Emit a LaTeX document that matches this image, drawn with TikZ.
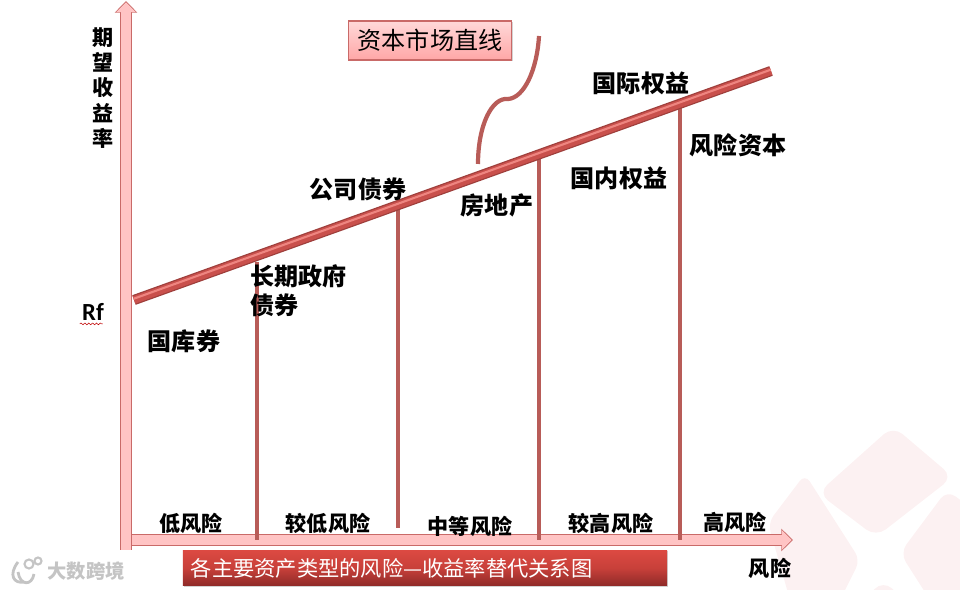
\documentclass[tikz,border=0pt]{standalone}
\usepackage{fontspec}
\setmainfont{Noto Sans CJK SC}
\newfontfamily\rffont{Carlito}
\usetikzlibrary{arrows.meta,shadows,decorations.pathmorphing}
\definecolor{axisfill}{HTML}{FFC4C4}
\definecolor{axisedge}{HTML}{C96A68}
\definecolor{barred}{HTML}{B85C58}
\definecolor{linered}{HTML}{C9504C}
\definecolor{linedark}{HTML}{9E3F3C}
\definecolor{linelight}{HTML}{EE8580}
\definecolor{markpink}{HTML}{FCF1F2}
\definecolor{markgrey}{HTML}{C4C4C4}
\definecolor{captop}{HTML}{DC4A42}
\definecolor{capmid}{HTML}{C8403A}
\definecolor{capbot}{HTML}{8E2A28}
\begin{document}
\begin{tikzpicture}[
  x=0.02cm,y=-0.02cm,
  every node/.style={inner sep=0pt,font=\bfseries\fontsize{13.7}{16.4}\selectfont},
  smalllabel/.style={font=\bfseries\fontsize{12}{14}\selectfont},
  axisarrow/.style={line width=5.6pt,draw=axisfill,
    -{Triangle[length=5.6pt,width=10.6pt]},shorten >=0.7pt,
    preaction={draw=axisedge,line width=6.6pt,shorten >=0pt,
    -{Triangle[length=6.6pt,width=12.4pt]}}},
  riskbar/.style={draw=barred,line width=2.6pt},
  marketline/.style={draw=linered,line width=4.4pt,
    preaction={draw=linedark,line width=5.8pt},
    postaction={draw=linelight,line width=1.2pt,transform canvas={shift={(-0.2pt,0.7pt)}}}},
  curveline/.style={draw=barred,line width=2.4pt}
]
  \useasboundingbox (0,0) rectangle (960,590);
  \begin{scope}
    \clip (0,0) rectangle (960,590);
    \fill[markpink,rounded corners=7pt] (893,426) -- (953,477) -- (876,537) -- (818,493) -- cycle;
    \fill[markpink,rounded corners=5pt] (805,474) -- (860,560) -- (830,620) -- (790,600) -- (768,523) -- cycle;
    \fill[markpink,rounded corners=6pt] (947,490) -- (1000,530) -- (970,620) -- (930,600) -- (900,553) -- cycle;
    \fill[markpink,rounded corners=7pt] (883,580) -- (915,610) -- (855,610) -- cycle;
  \end{scope}

  \coordinate (ostart) at (131,540);
  \coordinate (xtip) at (793,540);
  \coordinate (ybase) at (126,550);
  \coordinate (ytip) at (126,1);
  \draw[axisarrow] (ostart)--(xtip);
  \draw[axisarrow] (ybase)--(ytip);

  \coordinate (bar1top) at (257,262);
  \coordinate (bar1end) at (257,540);
  \coordinate (bar2top) at (398,208);
  \coordinate (bar2end) at (398,528);
  \coordinate (bar3top) at (539,156);
  \coordinate (bar3end) at (539,540);
  \coordinate (bar4top) at (680,104);
  \coordinate (bar4end) at (680,540);
  \draw[riskbar] (bar1top)--(bar1end);
  \draw[riskbar] (bar2top)--(bar2end);
  \draw[riskbar] (bar3top)--(bar3end);
  \draw[riskbar] (bar4top)--(bar4end);

  \coordinate (linestart) at (134,300);
  \coordinate (lineend) at (771,71);
  \draw[marketline] (linestart)--(lineend);

  \coordinate (curvetop) at (539,36);
  \coordinate (curvemid) at (508,99);
  \coordinate (curveend) at (478,164);
  \draw[curveline] (curvetop) .. controls (537,70) and (524,98) .. (curvemid)
    .. controls (492,97) and (478,125) .. (curveend);

  \node[draw=axisedge,line width=0.8pt,top color=axisfill!65,bottom color=axisfill!85!red,
    minimum width=164*0.567pt,minimum height=39*0.567pt,
    drop shadow={shadow xshift=0.6pt,shadow yshift=-0.8pt,opacity=0.35},
    font=\fontsize{13.7}{16}\selectfont] (capline) at (430,40.5) {资本市场直线};
  \node[top color=captop,bottom color=capbot,middle color=capmid,
    minimum width=486*0.567pt,minimum height=36*0.567pt,
    drop shadow={shadow xshift=0.6pt,shadow yshift=-0.8pt,opacity=0.35},
    text=white,font=\fontsize{12.1}{14}\selectfont] (caption) at (425,568) {\hspace{-38pt}各主要资产类型的风险—收益率替代关系图};

  \node[align=center,font=\bfseries\fontsize{12}{14.45}\selectfont] (yaxis) at (103,88) {期\\望\\收\\益\\率};
  \node[font=\rffont\bfseries\fontsize{14}{16}\selectfont] (rf) at (93,312) {Rf};
  \draw[draw=red!75!black,line width=0.3pt,decorate,
    decoration={snake,amplitude=0.5pt,segment length=2.2pt}] (rf.south west)++(-2,3)--++(23,0);

  \node (bond) at (184,341) {国库券};
  \node[align=left,anchor=west] (govbond) at (250,291) {长期政府\\债券};
  \node (corpbond) at (358,189) {公司债券};
  \node (estate) at (497,205) {房地产};
  \node (domestic) at (619,178) {国内权益};
  \node (intl) at (641,83) {国际权益};
  \node (venture) at (738,145) {风险资本};

  \node[smalllabel] (risk1) at (191,523) {低风险};
  \node[smalllabel] (risk2) at (328,523) {较低风险};
  \node[smalllabel] (risk3) at (470,526) {中等风险};
  \node[smalllabel] (risk4) at (611,523) {较高风险};
  \node[smalllabel] (risk5) at (735,522) {高风险};
  \node[smalllabel] (xaxis) at (770,568) {风险};

  \draw[markgrey,line width=1.6pt] (18,562) .. controls (8,575) and (14,584) .. (24,582);
  \draw[markgrey,line width=1.6pt] (34,574) .. controls (32,586) and (20,586) .. (18,572);
  \draw[markgrey,line width=1.2pt] (29,564) circle (4.5);
  \draw[markgrey,line width=1.2pt] (38,561) circle (3.5);
  \node[text=markgrey,font=\bfseries\fontsize{11}{13}\selectfont] (brand) at (86,571) {大数跨境};
\end{tikzpicture}
\end{document}
